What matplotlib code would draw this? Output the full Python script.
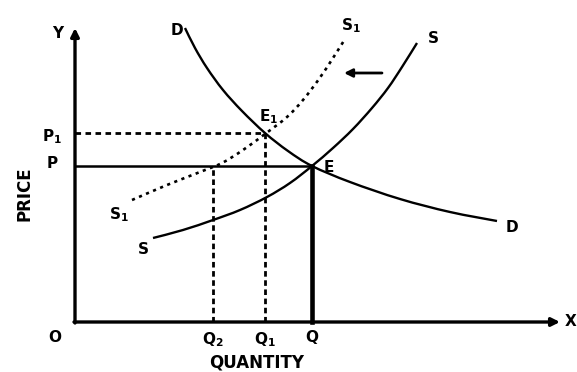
import matplotlib
matplotlib.use("Agg")
import matplotlib.pyplot as plt
from matplotlib.path import Path
from matplotlib.patches import PathPatch

plt.rcParams['font.family'] = ['DejaVu Sans']
plt.rcParams['mathtext.fontset'] = 'dejavusans'

# ---- data (quantity, price) ----
demand_q = [11.0, 12.0, 13.2, 14.8, 16.7, 19.0, 21.3, 23.7, 27.5, 32.5, 37.5, 42.2]
demand_p = [29.4, 27.4, 25.4, 23.2, 21.1, 18.9, 17.1, 15.6, 14.0, 12.3, 11.0, 10.1]

supply_q = [7.8, 10.8, 13.8, 16.5, 19.2, 21.5, 23.7, 25.8, 27.8, 29.7, 31.3, 32.7, 34.2]
supply_p = [8.4, 9.2, 10.2, 11.2, 12.5, 13.9, 15.6, 17.4, 19.3, 21.4, 23.4, 25.5, 27.9]

supply1_q = [5.7, 9.2, 12.5, 14.7, 16.8, 19.0, 21.2, 22.8, 24.4, 25.8, 27.0]
supply1_p = [12.2, 13.7, 15.0, 15.9, 17.2, 18.8, 20.5, 22.2, 24.3, 26.4, 28.3]

q_levels = {"Q2": 13.8, "Q1": 19.0, "Q": 23.7}
p_levels = {"P": 15.6, "P1": 18.9}

x_axis_end = 48.5
y_axis_end = 29.4
shift_arrow = [(30.7, 24.9), (26.9, 24.9)]


def smooth_path(xs, ys):
    """Cubic Bezier path through the given points (Catmull-Rom tangents)."""
    pts = list(zip(xs, ys))
    verts = [pts[0]]
    codes = [Path.MOVETO]
    n = len(pts)
    for i in range(n - 1):
        p0 = pts[i - 1] if i > 0 else pts[i]
        p1 = pts[i]
        p2 = pts[i + 1]
        p3 = pts[i + 2] if i + 2 < n else pts[i + 1]
        c1 = (p1[0] + (p2[0] - p0[0]) / 6, p1[1] + (p2[1] - p0[1]) / 6)
        c2 = (p2[0] - (p3[0] - p1[0]) / 6, p2[1] - (p3[1] - p1[1]) / 6)
        verts += [c1, c2, p2]
        codes += [Path.CURVE4] * 3
    return Path(verts, codes)


# ---- figure ----
fig = plt.figure(figsize=(5.77, 3.72), dpi=100)
ax = fig.add_axes([0, 0, 1, 1])
ax.set_xlim(-7.5, 50.2)
ax.set_ylim(-5.0, 32.2)
ax.axis('off')

k = 'black'
# axes with arrows
ax.annotate('', xy=(x_axis_end, 0), xytext=(-0.1, 0),
            arrowprops=dict(arrowstyle='-|>', lw=2.4, color=k, mutation_scale=12,
                            shrinkA=0, shrinkB=0))
ax.annotate('', xy=(0, y_axis_end), xytext=(0, -0.1),
            arrowprops=dict(arrowstyle='-|>', lw=2.4, color=k, mutation_scale=12,
                            shrinkA=0, shrinkB=0))

# curves
ax.add_patch(PathPatch(smooth_path(demand_q, demand_p), fill=False, ec=k, lw=1.7))
ax.add_patch(PathPatch(smooth_path(supply_q, supply_p), fill=False, ec=k, lw=1.7))
ax.add_patch(PathPatch(smooth_path(supply1_q, supply1_p), fill=False, ec=k, lw=1.9,
                       linestyle=(0, (1.2, 1.7))))

Q, Q1, Q2 = q_levels["Q"], q_levels["Q1"], q_levels["Q2"]
P, P1 = p_levels["P"], p_levels["P1"]

# guide lines
ax.plot([0, Q], [P, P], color=k, lw=1.8)
ax.plot([Q, Q], [0, P], color=k, lw=3.3)
ax.plot([0, Q1], [P1, P1], color=k, lw=2.0, linestyle=(0, (2.0, 1.6)))
ax.plot([Q1, Q1], [0, P1], color=k, lw=2.0, linestyle=(0, (2.0, 1.3)))
ax.plot([Q2, Q2], [0, P], color=k, lw=2.0, linestyle=(0, (2.0, 1.3)))

# shift arrow
ax.annotate('', xy=shift_arrow[1], xytext=shift_arrow[0],
            arrowprops=dict(arrowstyle='-|>', lw=2.0, color=k, mutation_scale=12,
                            shrinkA=0, shrinkB=0))

fs = 11
tk = dict(color=k, fontsize=fs, fontweight='bold', ha='center', va='center')
ax.text(-1.7, 28.9, 'Y', **tk)
ax.text(49.6, 0.0, 'X', **tk)
ax.text(-2.0, -1.6, 'O', **tk)
ax.text(Q2, -1.8, r'$\mathbf{Q_2}$', **tk)
ax.text(Q1, -1.8, r'$\mathbf{Q_1}$', **tk)
ax.text(Q, -1.6, 'Q', **tk)
ax.text(18.2, -4.0, 'QUANTITY', color=k, fontsize=12, fontweight='bold', ha='center', va='center')
ax.text(-5.0, 12.8, 'PRICE', color=k, fontsize=12, fontweight='bold', ha='center', va='center', rotation=90)
ax.text(-2.3, 18.5, r'$\mathbf{P_1}$', **tk)
ax.text(-2.3, 15.9, 'P', **tk)
ax.text(10.2, 29.2, 'D', **tk)
ax.text(43.7, 9.5, 'D', **tk)
ax.text(27.6, 29.6, r'$\mathbf{S_1}$', **tk)
ax.text(35.8, 28.4, 'S', **tk)
ax.text(4.4, 10.7, r'$\mathbf{S_1}$', **tk)
ax.text(6.8, 7.2, 'S', **tk)
ax.text(25.4, 15.5, 'E', **tk)
ax.text(19.4, 20.5, r'$\mathbf{E_1}$', **tk)

fig.savefig('out.png', dpi=100)
